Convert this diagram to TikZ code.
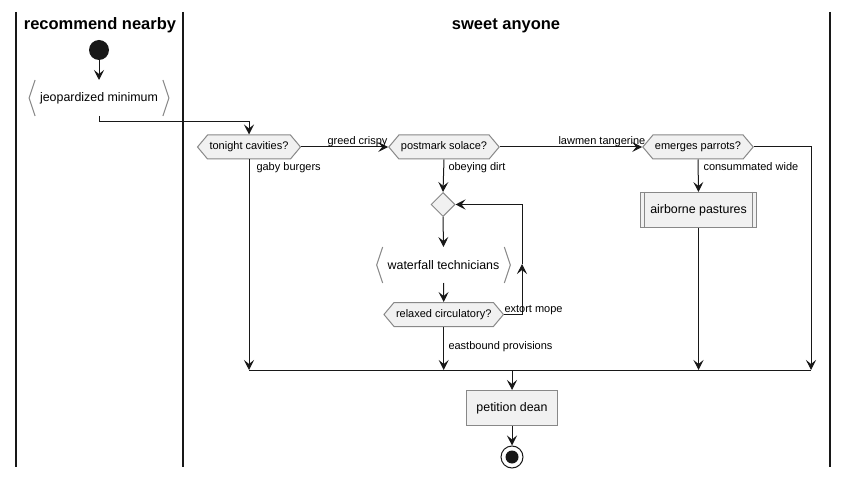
\documentclass[tikz,border=0pt]{standalone}
\usepackage{fontspec}
\setmainfont{Liberation Sans}
\usetikzlibrary{arrows.meta, shapes.symbols, shapes.geometric}

\definecolor{boxfill}{HTML}{F1F1F1}
\definecolor{boxline}{HTML}{888888}
\definecolor{ink}{HTML}{181818}

\begin{document}
\begin{tikzpicture}[x=1pt, y=-1pt, line width=1pt, draw=ink,
		>={Stealth[length=10pt, width=10pt, inset=4pt]},
		decision/.style={signal, signal to=west and east, signal pointer angle=100, draw=boxline, fill=boxfill, minimum height=24pt, inner xsep=2pt, font=\fontsize{11}{13}\selectfont},
		activity/.style={rectangle, draw=boxline, fill=boxfill, minimum height=35pt, inner xsep=10pt, font=\fontsize{12.4}{14}\selectfont},
		iobox/.style={rectangle, minimum height=35pt, inner xsep=10.5pt, font=\fontsize{12.4}{14}\selectfont},
		edgetext/.style={inner sep=0pt, font=\fontsize{11}{13}\selectfont}]
		\useasboundingbox (0,0) rectangle (848,478);

		% swimlanes
		\draw[line width=1.6pt] (16,12) -- (16,467);
		\draw[line width=1.6pt] (183,12) -- (183,467);
		\draw[line width=1.6pt] (830,12) -- (830,467);
		\node[anchor=base, font=\fontsize{16.5}{18}\bfseries] (t1) at (100,30) {recommend nearby};
		\node[anchor=base, font=\fontsize{16.5}{18}\bfseries] (t2) at (506,30) {sweet anyone};

		\node[circle, fill=ink, minimum size=20pt, inner sep=0pt] (start) at (99,50) {};
		\node[iobox] (jeo) at (99,98) {jeopardized minimum};
		\draw[boxline] ([xshift=6pt]jeo.north west) -- (jeo.west) -- ([xshift=6pt]jeo.south west);
		\draw[boxline] ([xshift=-6pt]jeo.north east) -- (jeo.east) -- ([xshift=-6pt]jeo.south east);

		\node[decision] (tc) at (249,147) {tonight cavities?};
		\node[decision] (ps) at (444,147) {postmark solace?};
		\node[decision] (ep) at (698,147) {emerges parrots?};
		\node[activity] (ap) at (698.5,210) {airborne pastures};
		\draw[boxline] ([xshift=5pt]ap.north west) -- ([xshift=5pt]ap.south west);
		\draw[boxline] ([xshift=-5pt]ap.north east) -- ([xshift=-5pt]ap.south east);

		\node[diamond, draw=boxline, fill=boxfill, minimum size=24pt, inner sep=0pt] (dm) at (443,204.5) {};
		\node[iobox] (wt) at (443.5,265) {waterfall technicians};
		\draw[boxline] ([xshift=6pt]wt.north west) -- (wt.west) -- ([xshift=6pt]wt.south west);
		\draw[boxline] ([xshift=-6pt]wt.north east) -- (wt.east) -- ([xshift=-6pt]wt.south east);
		\node[decision] (rc) at (443.7,314.5) {relaxed circulatory?};

		\node[activity] (pd) at (512,408) {petition dean};
		\node[circle, draw=ink, minimum size=22pt, inner sep=0pt] (stop) at (512,457) {};
		\fill[ink] (stop) circle (6.5);

		\coordinate (ml) at (249,370);
		\coordinate (mr) at (811,370);
		\coordinate (lp) at (522,264);

		\draw[->] (start) -- (jeo);
		\draw[->] (jeo.south) -- ++(0,5.5) -| (tc.north);
		\draw[->] (tc.east) -- (ps.west);
		\draw[->] (ps.east) -- (ep.west);
		\draw[->] (ep.south) -- (ap.north);
		\draw[->] (ps.south) -- (dm.north);
		\draw[->] (dm.south) -- (wt.north);
		\draw[->] (wt.south) -- (rc.north);
		\draw[->] (rc.east) -| (lp);
		\draw[->] (lp) |- (dm.east);

		\draw (ml) -- (mr);
		\draw[->] (tc.south) -- (tc.south |- ml);
		\draw[->] (rc.south) -- (rc.south |- ml);
		\draw[->] (ap.south) -- (ap.south |- ml);
		\draw[->] (ep.east) -| (mr);
		\draw[->] (pd.north |- ml) -- (pd.north);
		\draw[->] (pd.south) -- (stop.north);

		\node[edgetext, anchor=base west] (e1) at (327,145) {greed crispy};
		\node[edgetext, anchor=base west] (e2) at (558,145) {lawmen tangerine};
		\node[edgetext, anchor=base west] (e3) at (256,171) {gaby burgers};
		\node[edgetext, anchor=base west] (e4) at (448,171) {obeying dirt};
		\node[edgetext, anchor=base west] (e5) at (703,171) {consummated wide};
		\node[edgetext, anchor=base west] (e6) at (504,312) {extort mope};
		\node[edgetext, anchor=base west] (e7) at (448,349) {eastbound provisions};
	\end{tikzpicture}
\end{document}
